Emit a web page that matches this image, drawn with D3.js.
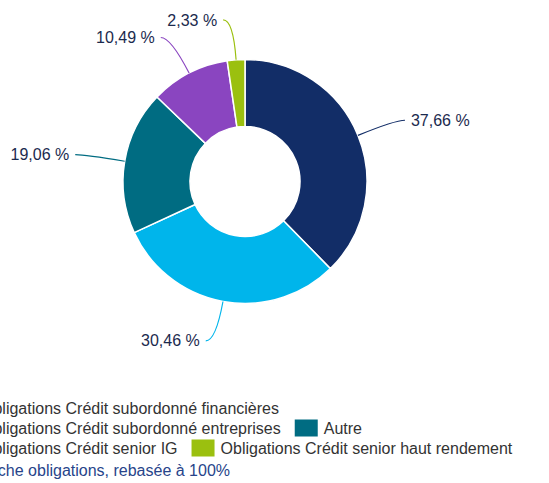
<!DOCTYPE html>
<html>
<head>
<meta charset="utf-8">
<script src="https://cdn.jsdelivr.net/npm/d3@7"></script>
<style>
  body { margin: 0; background: #fff; overflow: hidden; }
  text { font-family: "Liberation Sans", Arial, sans-serif; }
</style>
</head>
<body>
<script>

var categories = ["Obligations Crédit subordonné financières", "Obligations Crédit subordonné entreprises", "Autre", "Obligations Crédit senior IG", "Obligations Crédit senior haut rendement"];
var values = [37.66, 30.46, 19.06, 10.49, 2.33];
var colors = ["#122d67", "#00b5eb", "#006c82", "#8a45c0", "#9bc00f"];
var caption = "Répartition de la poche obligations, rebasée à 100%";

var width = 549, height = 483;
var cx = 245, cy = 181.5;
var outerR = 122, innerR = 55;

var data = [];
for (var i = 0; i < values.length; i++){
	data.push({name: categories[i], value: values[i], color: colors[i]});
}

var svg = d3.select("body").append("svg")
			.attr("width", width).attr("height", height);

var pie = d3.pie().sort(null).value(function(d){ return d.value; });
var arc = d3.arc().innerRadius(innerR).outerRadius(outerR);
var arcs = pie(data);

var chartGroup = svg.append("g")
					.attr("transform", "translate(" + cx + "," + cy + ")");

chartGroup.selectAll("path.slice").data(arcs)
	.enter().append("path")
	.attr("class", "slice")
	.attr("d", arc)
	.style("fill", function(d){ return d.data.color; })
	.style("stroke", "#fff")
	.style("stroke-width", 1.5);

// labels + curved connectors
var fmt = function(v){ return v.toFixed(2).replace(".", ",") + " %"; };

arcs.forEach(function(d){
	var a = (d.startAngle + d.endAngle) / 2;
	var side = Math.sin(a) >= 0 ? 1 : -1;
	var p0 = [outerR * Math.sin(a), -outerR * Math.cos(a)];
	var lr = outerR + 40;
	var p2 = [lr * Math.sin(a) + side * 10, -lr * Math.cos(a)];
	var c = [p2[0] - side * 10, p2[1]];

	chartGroup.append("path")
		.attr("d", "M" + p0[0] + "," + p0[1] + " Q" + c[0] + "," + c[1] + " " + p2[0] + "," + p2[1])
		.style("fill", "none")
		.style("stroke", d.data.color)
		.style("stroke-width", 1.2);

	chartGroup.append("text")
		.attr("x", p2[0] + side * 6)
		.attr("y", p2[1])
		.attr("dy", "0.35em")
		.attr("font-size", "16px")
		.style("fill", "#1b2a4e")
		.style("text-anchor", side > 0 ? "start" : "end")
		.text(fmt(d.data.value));
});

// legend (left part cropped like the original)
var legendRows = [[0], [1, 2], [3, 4]];
var legend = svg.append("g").attr("transform", "translate(-48,0)");

legendRows.forEach(function(row, r){
	var x = 0;
	var y = 408 + r * 20;
	row.forEach(function(idx){
		legend.append("rect")
			.attr("x", x)
			.attr("y", y - 8.5)
			.attr("width", 23)
			.attr("height", 17)
			.style("fill", colors[idx]);
		var t = legend.append("text")
			.attr("x", x + 29)
			.attr("y", y)
			.attr("dy", "0.35em")
			.attr("font-size", "16px")
			.style("fill", "#333")
			.text(categories[idx]);
		x += 29 + t.node().getComputedTextLength() + 14;
	});
});

svg.append("text")
	.attr("x", 230)
	.attr("y", 470)
	.attr("dy", "0.35em")
	.attr("font-size", "16px")
	.style("fill", "#27448a")
	.style("text-anchor", "end")
	.text(caption);

</script>
</body>
</html>
